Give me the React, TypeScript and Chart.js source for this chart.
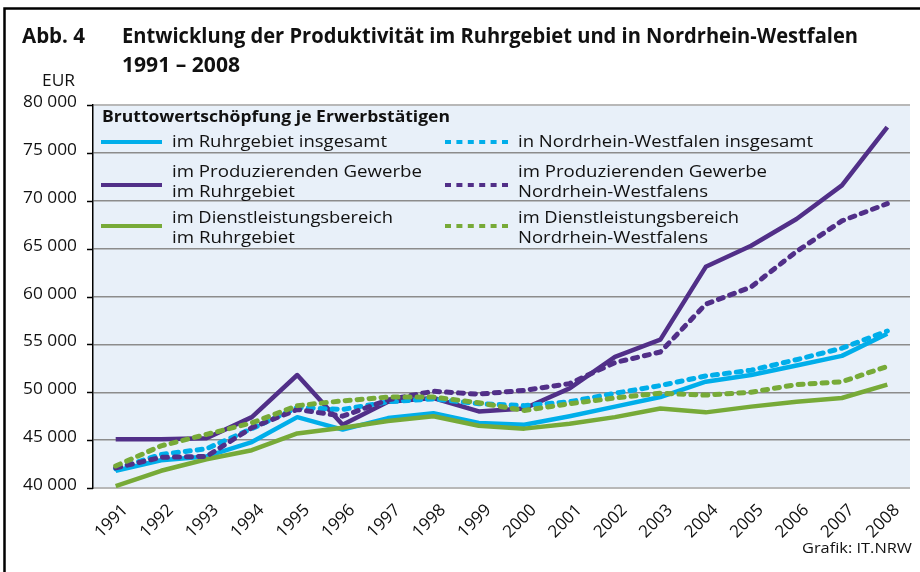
import React, { useEffect, useRef } from "react";
import { Chart, registerables } from "chart.js";

Chart.register(...registerables);

const years = ["1991", "1992", "1993", "1994", "1995", "1996", "1997", "1998", "1999", "2000", "2001", "2002", "2003", "2004", "2005", "2006", "2007", "2008"];
const yTicks = [40000, 45000, 50000, 55000, 60000, 65000, 70000, 75000, 80000];

const ruhrTotal = [41800, 42900, 43300, 44800, 47400, 46100, 47300, 47800, 46800, 46600, 47500, 48500, 49500, 51100, 51800, 52800, 53800, 56100];
const nrwTotal = [42000, 43500, 44100, 46200, 48400, 48200, 49000, 49300, 48800, 48600, 49000, 49900, 50700, 51700, 52300, 53400, 54600, 56400];
const ruhrProd = [45100, 45100, 45200, 47400, 51800, 46600, 49000, 49400, 48000, 48300, 50400, 53700, 55500, 63100, 65300, 68100, 71600, 77700];
const nrwProd = [42100, 43200, 43300, 46300, 48200, 47500, 49200, 50100, 49800, 50200, 50900, 53100, 54200, 59200, 61000, 64700, 67900, 69700];
const ruhrDienst = [40200, 41800, 43000, 43950, 45700, 46300, 47000, 47500, 46500, 46200, 46700, 47400, 48300, 47900, 48500, 49000, 49400, 50800];
const nrwDienst = [42300, 44400, 45600, 46800, 48600, 49100, 49500, 49500, 48900, 48100, 48800, 49400, 49900, 49700, 50000, 50800, 51100, 52700];

const titleLabel = "Abb. 4";
const titleLines = ["Entwicklung der Produktivität im Ruhrgebiet und in Nordrhein-Westfalen", "1991 – 2008"];
const unitLabel = "EUR";
const legendTitle = "Bruttowertschöpfung je Erwerbstätigen";
const legendLeft = [["im Ruhrgebiet insgesamt"], ["im Produzierenden Gewerbe", "im Ruhrgebiet"], ["im Dienstleistungsbereich", "im Ruhrgebiet"]];
const legendRight = [["in Nordrhein-Westfalen insgesamt"], ["im Produzierenden Gewerbe", "Nordrhein-Westfalens"], ["im Dienstleistungsbereich", "Nordrhein-Westfalens"]];
const sourceLabel = "Grafik: IT.NRW";

const FONT = '"Open Sans", "Noto Sans", sans-serif';
const BLUE = "#00aeea";
const PURPLE = "#512f88";
const GREEN = "#77aa38";
const PLOT_BG = "#e8f0f9";

function fmt(v: number) {
  return String(v).replace(/\B(?=(\d{3})+$)/g, " ");
}

function fitText(ctx: CanvasRenderingContext2D, text: string, x: number, y: number, width: number, font: string, align: "left" | "right" = "left") {
  ctx.font = font;
  const w = ctx.measureText(text).width;
  const s = width / w;
  ctx.save();
  ctx.translate(x, y);
  ctx.scale(s, 1);
  ctx.textAlign = "left";
  ctx.textBaseline = "alphabetic";
  ctx.fillText(text, align === "right" ? -w : 0, 0);
  ctx.restore();
}

const decor = {
  id: "decor",
  beforeDraw(chart: any) {
    const { ctx, chartArea: a } = chart;
    ctx.save();
    ctx.fillStyle = "#ffffff";
    ctx.fillRect(0, 0, chart.width, chart.height);
    ctx.fillStyle = PLOT_BG;
    ctx.fillRect(a.left, a.top, a.right - a.left, a.bottom - a.top);
    ctx.restore();
  },
  afterDraw(chart: any) {
    const { ctx } = chart;
    const ys = chart.scales.y;
    const xs = chart.scales.x;
    ctx.save();
    // outer frame (left and top)
    ctx.strokeStyle = "#000";
    ctx.lineWidth = 2.5;
    ctx.beginPath();
    ctx.moveTo(4.5, 572);
    ctx.lineTo(4.5, 8.5);
    ctx.lineTo(920, 8.5);
    ctx.stroke();

    ctx.fillStyle = "#111";
    // title
    const bold = `bold 21px ${FONT}`;
    fitText(ctx, titleLabel, 22, 43, 63, bold);
    fitText(ctx, titleLines[0], 122, 43, 736, bold);
    fitText(ctx, titleLines[1], 122, 72, 118, bold);
    // unit
    fitText(ctx, unitLabel, 75, 86, 33, `16px ${FONT}`, "right");

    // y ticks
    ctx.strokeStyle = "#000";
    ctx.lineWidth = 1.5;
    yTicks.forEach((v) => {
      const y = Math.round(ys.getPixelForValue(v)) + 0.5;
      ctx.beginPath();
      ctx.moveTo(87, y);
      ctx.lineTo(93, y);
      ctx.stroke();
      fitText(ctx, fmt(v), 77, y + 1, 54, `17px ${FONT}`, "right");
    });

    // x labels
    ctx.font = `17px ${FONT}`;
    years.forEach((yr, i) => {
      const x = xs.getPixelForValue(i);
      ctx.save();
      ctx.translate(x + 13, 511);
      ctx.rotate(-Math.PI / 4);
      ctx.textAlign = "right";
      ctx.textBaseline = "alphabetic";
      ctx.fillText(yr, 0, 0);
      ctx.restore();
    });

    // legend
    fitText(ctx, legendTitle, 102, 122, 348, `bold 16px ${FONT}`);
    const colors = [BLUE, PURPLE, GREEN];
    const sampleY = [142, 185, 226];
    const rowBase = [[147], [177, 197], [223, 243]];
    const leftW: Record<string, number> = {
      "im Ruhrgebiet insgesamt": 215,
      "im Produzierenden Gewerbe": 250,
      "im Ruhrgebiet": 123,
      "im Dienstleistungsbereich": 221,
      "in Nordrhein-Westfalen insgesamt": 295,
      "Nordrhein-Westfalens": 190,
    };
    const lf = `16px ${FONT}`;
    for (let r = 0; r < 3; r++) {
      ctx.strokeStyle = colors[r];
      ctx.lineWidth = 4;
      ctx.lineCap = "butt";
      ctx.setLineDash([]);
      ctx.beginPath();
      ctx.moveTo(101, sampleY[r]);
      ctx.lineTo(162, sampleY[r]);
      ctx.stroke();
      ctx.setLineDash([6, 5.4]);
      ctx.beginPath();
      ctx.moveTo(445, sampleY[r]);
      ctx.lineTo(508, sampleY[r]);
      ctx.stroke();
      ctx.setLineDash([]);
      ctx.fillStyle = "#111";
      legendLeft[r].forEach((t, k) => fitText(ctx, t, 172, rowBase[r][k], leftW[t], lf));
      legendRight[r].forEach((t, k) => fitText(ctx, t, 518, rowBase[r][k], leftW[t] - (t === "im Produzierenden Gewerbe" ? 1 : 0), lf));
    }

    // source
    fitText(ctx, sourceLabel, 802, 553, 110, `14px ${FONT}`);
    ctx.restore();
  },
};

export default function App() {
  const ref = useRef<HTMLCanvasElement | null>(null);
  useEffect(() => {
    document.body.style.margin = "0";
    const canvas = ref.current!;
    const solid = (data: number[], color: string, order: number) => ({
      data,
      borderColor: color,
      backgroundColor: color,
      borderWidth: 4.5,
      pointRadius: 0,
      tension: 0,
      fill: false,
      order,
      borderJoinStyle: "round" as const,
    });
    const dotted = (data: number[], color: string, order: number) => ({
      data,
      borderColor: color,
      backgroundColor: color,
      borderWidth: 5,
      borderDash: [5, 7],
      borderCapStyle: "round" as const,
      borderJoinStyle: "round" as const,
      pointRadius: 0,
      tension: 0,
      fill: false,
      order,
    });
    const chart = new Chart(canvas, {
      type: "line",
      data: {
        labels: years,
        datasets: [
          solid(ruhrTotal, BLUE, 5),
          dotted(nrwTotal, BLUE, 2),
          solid(ruhrProd, PURPLE, 4),
          dotted(nrwProd, PURPLE, 1),
          solid(ruhrDienst, GREEN, 3),
          dotted(nrwDienst, GREEN, 0),
        ],
      },
      options: {
        responsive: false,
        animation: false,
        devicePixelRatio: 1,
        layout: { padding: { left: 93, right: 10, top: 105, bottom: 84 } },
        plugins: { legend: { display: false }, tooltip: { enabled: false }, title: { display: false } },
        scales: {
          x: {
            type: "category",
            offset: true,
            grid: { display: false, drawTicks: false },
            border: { display: false },
            ticks: { display: false },
            afterFit: (s: any) => { s.height = 0; },
          },
          y: {
            min: 40000,
            max: 80000,
            ticks: { display: false, stepSize: 5000 },
            grid: {
              drawTicks: false,
              color: (c: any) => (c.tick && (c.tick.value === 40000 || c.tick.value === 80000) ? "#b8b8b8" : "#8c8c8c"),
              lineWidth: (c: any) => (c.tick && (c.tick.value === 40000 || c.tick.value === 80000) ? 2 : 1.4),
            },
            border: { display: true, color: "#000", width: 1.5 },
            afterFit: (s: any) => { s.width = 0; },
          },
        },
      },
      plugins: [decor],
    });
    return () => chart.destroy();
  }, []);
  return (
    <div style={{ width: 920, height: 572 }}>
      <canvas ref={ref} width={920} height={572} style={{ display: "block", width: 920, height: 572 }} />
    </div>
  );
}
